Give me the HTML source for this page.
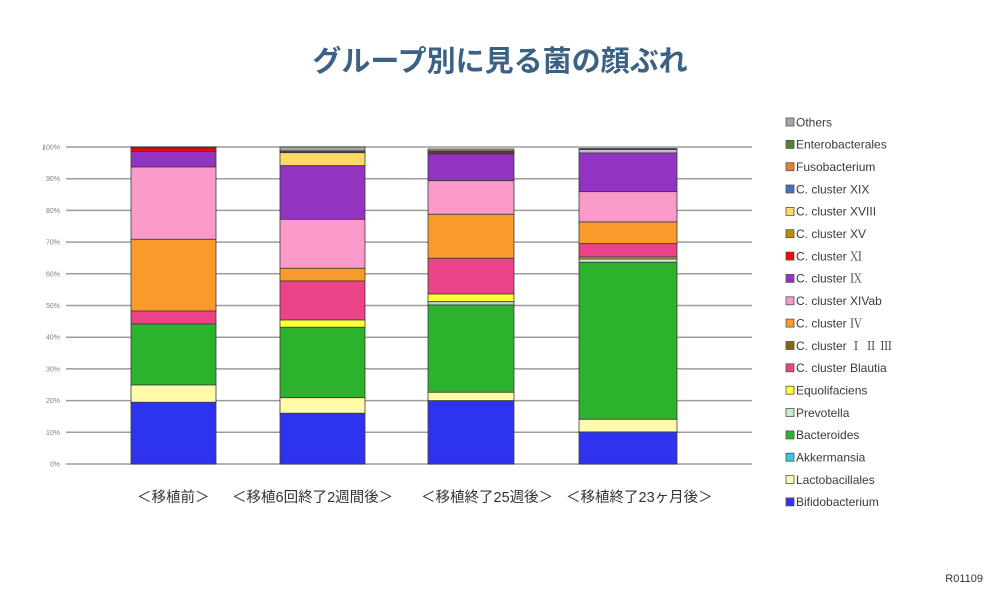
<!DOCTYPE html>
<html>
<head>
<meta charset="utf-8">
<style>
html,body{margin:0;padding:0;background:#fff;}
body{width:1000px;height:600px;overflow:hidden;}
svg{display:block;}
.t{font-family:"Liberation Sans","Noto Sans CJK JP",sans-serif;}
.r{font-family:"Noto Serif CJK SC","Liberation Serif",serif;}
</style>
</head>
<body>
<svg width="1000" height="600" viewBox="0 0 1000 600" xmlns="http://www.w3.org/2000/svg">
<rect width="1000" height="600" fill="#fff"/>
<!-- title -->
<text x="500" y="71" text-anchor="middle" font-size="29" font-weight="bold" fill="#3B6184" font-family="'Noto Sans CJK JP',sans-serif">グループ別に見る菌の顔ぶれ</text>

<!-- gridlines -->
<g stroke="#9c9c9c" stroke-width="1.5">
<line x1="66" x2="752" y1="147" y2="147"/>
<line x1="66" x2="752" y1="178.7" y2="178.7"/>
<line x1="66" x2="752" y1="210.4" y2="210.4"/>
<line x1="66" x2="752" y1="242.1" y2="242.1"/>
<line x1="66" x2="752" y1="273.8" y2="273.8"/>
<line x1="66" x2="752" y1="305.5" y2="305.5"/>
<line x1="66" x2="752" y1="337.2" y2="337.2"/>
<line x1="66" x2="752" y1="368.9" y2="368.9"/>
<line x1="66" x2="752" y1="400.6" y2="400.6"/>
<line x1="66" x2="752" y1="432.3" y2="432.3"/>
<line x1="66" x2="752" y1="464" y2="464"/>
</g>
<!-- y labels -->
<g class="t" font-size="7" fill="#808080" text-anchor="end">
<text x="60" y="149.5">100%</text>
<text x="60" y="181.2">90%</text>
<text x="60" y="212.9">80%</text>
<text x="60" y="244.6">70%</text>
<text x="60" y="276.3">60%</text>
<text x="60" y="308">50%</text>
<text x="60" y="339.7">40%</text>
<text x="60" y="371.4">30%</text>
<text x="60" y="403.1">20%</text>
<text x="60" y="434.8">10%</text>
<text x="60" y="466.5">0%</text>
</g>
<line x1="43.5" x2="43.5" y1="146" y2="150" stroke="#999" stroke-width="0.8"/>

<!-- bars -->
<g stroke="#3a3a3a" stroke-width="0.8">
<!-- bar 1 -->
<rect x="131" y="147" width="85" height="1" fill="#5a1010"/>
<rect x="131" y="148" width="85" height="3.5" fill="#FF0000"/>
<rect x="131" y="151.5" width="85" height="15.5" fill="#9233C1"/>
<rect x="131" y="167" width="85" height="72.3" fill="#F99ACB"/>
<rect x="131" y="239.3" width="85" height="71.7" fill="#F99A2A"/>
<rect x="131" y="311" width="85" height="13" fill="#EC4288"/>
<rect x="131" y="324" width="85" height="61" fill="#2DB22D"/>
<rect x="131" y="385" width="85" height="17.3" fill="#FFFBA8"/>
<rect x="131" y="402.3" width="85" height="61.7" fill="#2E33F0"/>
<!-- bar 2 -->
<rect x="280" y="147" width="85" height="4" fill="#A6A6A6"/>
<rect x="280" y="151" width="85" height="1.7" fill="#444"/>
<rect x="280" y="152.7" width="85" height="13" fill="#FFD966"/>
<rect x="280" y="165.7" width="85" height="53.6" fill="#9233C1"/>
<rect x="280" y="219.3" width="85" height="49" fill="#F99ACB"/>
<rect x="280" y="268.3" width="85" height="12.7" fill="#F99A2A"/>
<rect x="280" y="281" width="85" height="39" fill="#EC4288"/>
<rect x="280" y="320" width="85" height="7.3" fill="#FFFF33"/>
<rect x="280" y="327.3" width="85" height="70.4" fill="#2DB22D"/>
<rect x="280" y="397.7" width="85" height="15.6" fill="#FFFBA8"/>
<rect x="280" y="413.3" width="85" height="50.7" fill="#2E33F0"/>
<!-- bar 3 -->
<rect x="428" y="149" width="86" height="2" fill="#A6A6A6"/>
<rect x="428" y="151" width="86" height="3" fill="#6b3434"/>
<rect x="428" y="154" width="86" height="26.7" fill="#9233C1"/>
<rect x="428" y="180.7" width="86" height="33.6" fill="#F99ACB"/>
<rect x="428" y="214.3" width="86" height="44" fill="#F99A2A"/>
<rect x="428" y="258.3" width="86" height="35.7" fill="#EC4288"/>
<rect x="428" y="294" width="86" height="7.7" fill="#FFFF33"/>
<rect x="428" y="301.7" width="86" height="3.3" fill="#B8D8C8"/>
<rect x="428" y="305" width="86" height="87.3" fill="#2DB22D"/>
<rect x="428" y="392.3" width="86" height="8.4" fill="#FFFBA8"/>
<rect x="428" y="400.7" width="86" height="63.3" fill="#2E33F0"/>
<!-- bar 4 -->
<rect x="579" y="148.5" width="98" height="1" fill="#333"/>
<rect x="579" y="149.5" width="98" height="3.5" fill="#C9B3DB"/>
<rect x="579" y="153" width="98" height="38.7" fill="#9233C1"/>
<rect x="579" y="191.7" width="98" height="30.3" fill="#F99ACB"/>
<rect x="579" y="222" width="98" height="21.7" fill="#F99A2A"/>
<rect x="579" y="243.7" width="98" height="13.3" fill="#EC4288"/>
<rect x="579" y="257" width="98" height="2" fill="#C8B020"/>
<rect x="579" y="259" width="98" height="3.3" fill="#BFE8D0"/>
<rect x="579" y="262.3" width="98" height="157" fill="#2DB22D"/>
<rect x="579" y="419.3" width="98" height="12.7" fill="#FFFBA8"/>
<rect x="579" y="432" width="98" height="32" fill="#2E33F0"/>
</g>

<!-- x labels -->
<g class="t" font-size="14.5" fill="#333">
<text x="137" y="502">＜移植前＞</text>
<text x="232" y="502">＜移植6回終了2週間後＞</text>
<text x="421" y="502">＜移植終了25週後＞</text>
<text x="566" y="502">＜移植終了23ヶ月後＞</text>
</g>

<!-- legend -->
<g stroke="#555" stroke-width="0.8">
<rect x="786" y="118" width="8" height="8" fill="#A6A6A6"/>
<rect x="786" y="140.4" width="8" height="8" fill="#548235"/>
<rect x="786" y="162.7" width="8" height="8" fill="#ED7D31"/>
<rect x="786" y="185" width="8" height="8" fill="#4472C4"/>
<rect x="786" y="207.4" width="8" height="8" fill="#FFD966"/>
<rect x="786" y="229.7" width="8" height="8" fill="#BF8F00"/>
<rect x="786" y="252.1" width="8" height="8" fill="#FF0000"/>
<rect x="786" y="274.4" width="8" height="8" fill="#9233C1"/>
<rect x="786" y="296.8" width="8" height="8" fill="#F99ACB"/>
<rect x="786" y="319.1" width="8" height="8" fill="#F99A2A"/>
<rect x="786" y="341.5" width="8" height="8" fill="#8B6508"/>
<rect x="786" y="363.8" width="8" height="8" fill="#EC4288"/>
<rect x="786" y="386.2" width="8" height="8" fill="#FFFF33"/>
<rect x="786" y="408.5" width="8" height="8" fill="#C6EFCE"/>
<rect x="786" y="430.9" width="8" height="8" fill="#2DB22D"/>
<rect x="786" y="453.2" width="8" height="8" fill="#33CCDD"/>
<rect x="786" y="475.6" width="8" height="8" fill="#FFFBA8"/>
<rect x="786" y="497.9" width="8" height="8" fill="#2E33F0"/>
</g>
<g class="t" font-size="12" fill="#3a3a3a">
<text x="796" y="126.3">Others</text>
<text x="796" y="148.7">Enterobacterales</text>
<text x="796" y="171">Fusobacterium</text>
<text x="796" y="193.3">C. cluster XIX</text>
<text x="796" y="215.7">C. cluster XVIII</text>
<text x="796" y="238">C. cluster XV</text>
<text x="796" y="260.4">C. cluster <tspan class="r">Ⅺ</tspan></text>
<text x="796" y="282.7">C. cluster <tspan class="r">Ⅸ</tspan></text>
<text x="796" y="305.1">C. cluster XIVab</text>
<text x="796" y="327.4">C. cluster <tspan class="r">Ⅳ</tspan></text>
<text x="796" y="349.8">C. cluster <tspan class="r">Ⅰ Ⅱ Ⅲ</tspan></text>
<text x="796" y="372.1">C. cluster Blautia</text>
<text x="796" y="394.5">Equolifaciens</text>
<text x="796" y="416.8">Prevotella</text>
<text x="796" y="439.2">Bacteroides</text>
<text x="796" y="461.5">Akkermansia</text>
<text x="796" y="483.9">Lactobacillales</text>
<text x="796" y="506.2">Bifidobacterium</text>
</g>

<text x="983" y="582" text-anchor="end" class="t" font-size="11" fill="#333">R01109</text>
</svg>
</body>
</html>
